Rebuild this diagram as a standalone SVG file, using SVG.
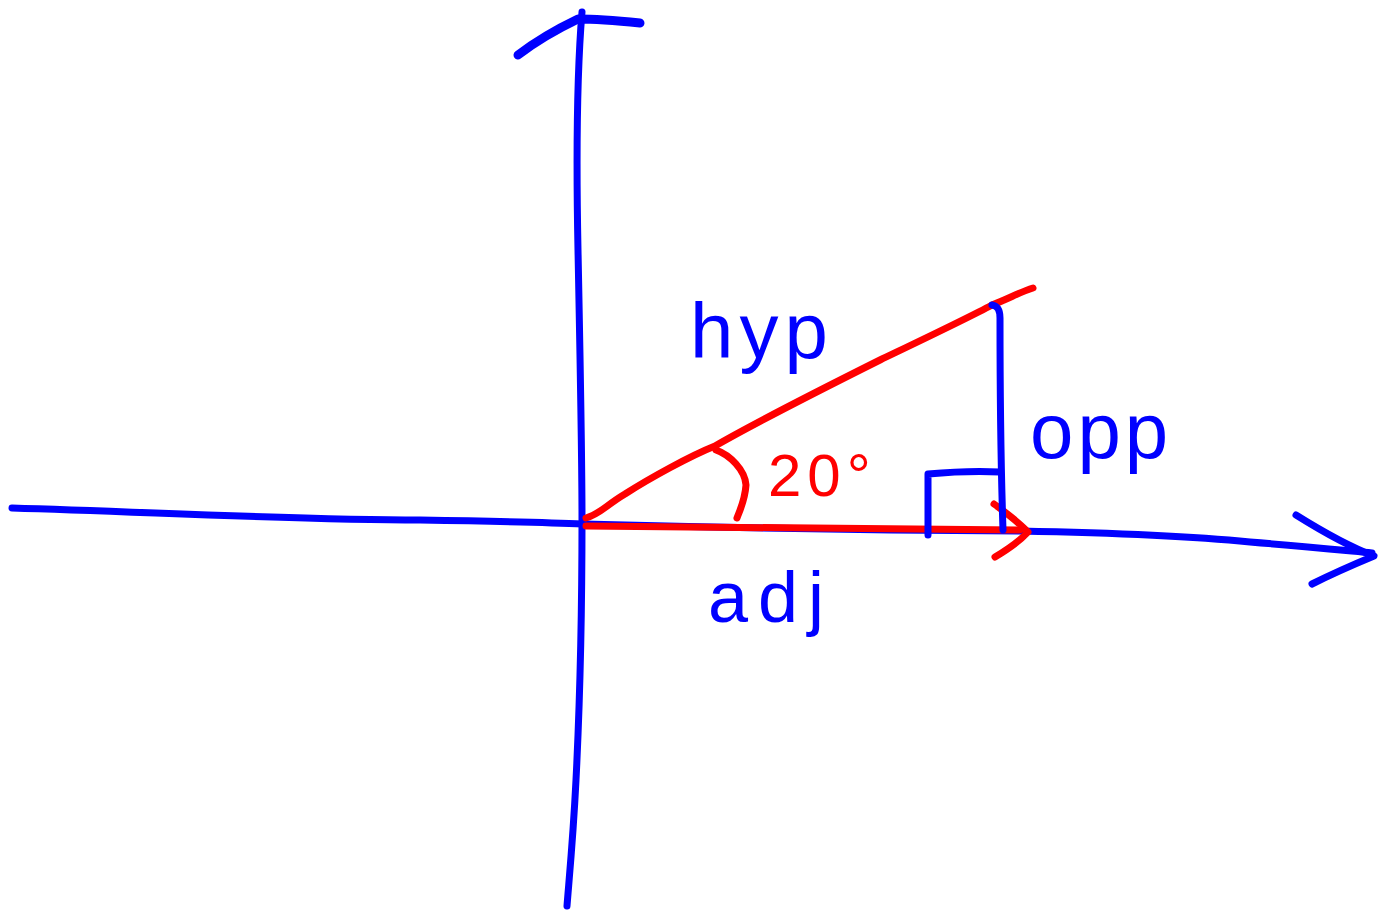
<svg xmlns="http://www.w3.org/2000/svg" width="1380" height="915" viewBox="0 0 1380 915">
<style>
.b{fill:none;stroke:#0000ff;stroke-width:7;stroke-linecap:round;stroke-linejoin:round}
.r{fill:none;stroke:#ff0000;stroke-width:7;stroke-linecap:round;stroke-linejoin:round}
.tb{fill:#0000ff;font-family:"Liberation Sans","DejaVu Sans",sans-serif}
.tr{fill:#ff0000;font-family:"Liberation Sans","DejaVu Sans",sans-serif}
</style>
<rect width="1380" height="915" fill="#ffffff"/>
<g id="axes">
<path class="b" d="M12,508 C150,512 300,520 420,520 C480,521 540,522 583,524 C700,527 850,530 1020,531 C1120,533 1200,537 1250,542 C1300,546 1340,550 1372,553"/>
<path class="b" d="M1296,515 C1320,530 1345,545 1374,556 C1350,566 1330,575 1312,584"/>
<path class="b" d="M582,12 C578,60 576,150 578,250 C580,350 582,450 582,520 C582,600 580,700 576,780 C573,840 569,880 567,906"/>
<path class="b" d="M518,55 C535,42 555,30 578,19 C600,19 620,21 640,23" style="stroke-width:9"/>
</g>
<g id="triangle">
<path class="r" d="M586,518 C600,514 605,506 625,494 C650,478 690,456 715,446 C760,420 830,385 880,360 C930,336 970,317 992,305 C1010,298 1020,292 1033,288"/>
<path class="r" d="M586,526 C700,528 850,529 1020,530"/>
<path class="r" d="M994,504 C1008,514 1018,522 1028,532 C1018,543 1005,551 995,557"/>
<path class="r" d="M716,450 C730,455 745,470 746,485 C745,500 740,510 737,518"/>
<path class="b" d="M992,305 C998,306 1000,310 1000,318 C1000,400 1001,470 1003,530"/>
<path class="b" d="M928,535 L928,474 C950,472 980,471 1000,472"/>
</g>
<g id="labels">
<text class="tb" x="690" y="358" font-size="78" letter-spacing="6">hyp</text>
<text class="tb" x="1030" y="458" font-size="78" letter-spacing="4">opp</text>
<text class="tb" x="708" y="622" font-size="72" letter-spacing="10">adj</text>
<text class="tr" x="768" y="496" font-size="60" letter-spacing="6">20°</text>
</g>
</svg>
